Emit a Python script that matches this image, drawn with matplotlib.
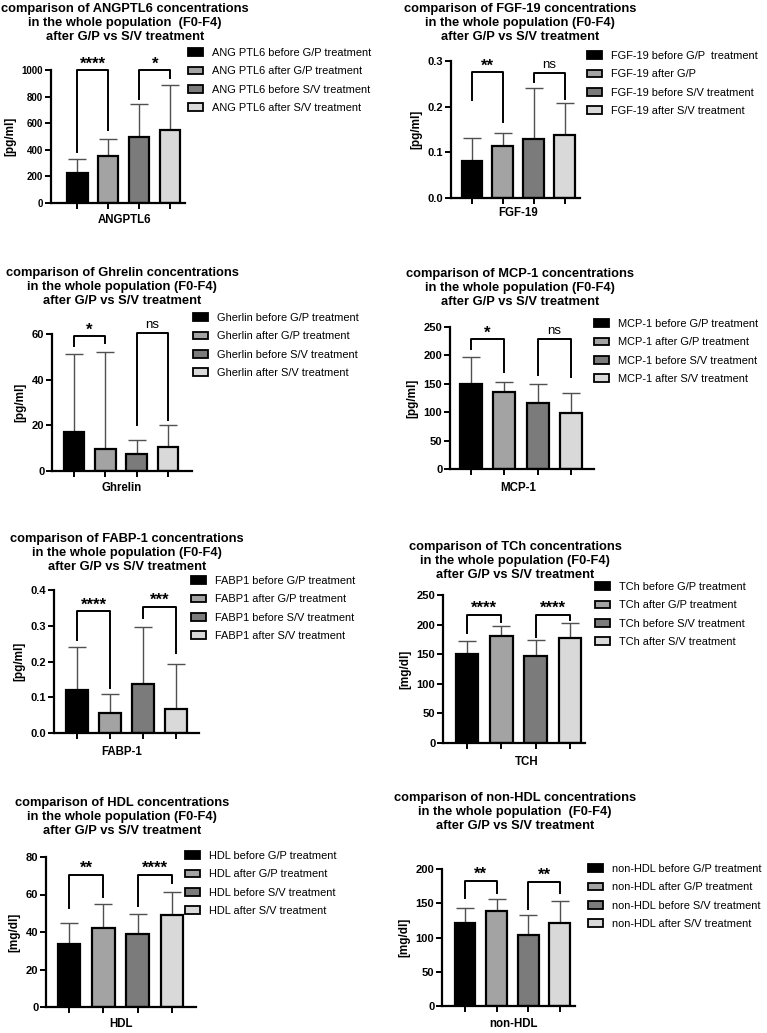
import numpy as np
import matplotlib.pyplot as plt
from matplotlib.patches import Patch

plt.rcParams['font.family'] = ['Liberation Sans', 'DejaVu Sans']

W, H = 767, 1033

bar_colors = ['#000000', '#a3a3a3', '#7b7b7b', '#d9d9d9']

# values (mean and upward SD)
angptl6_mean = [225, 355, 495, 550]
angptl6_sd = [105, 125, 250, 338]
angptl6_labels = ['ANG PTL6 before G/P treatment', 'ANG PTL6 after G/P treatment',
                  'ANG PTL6 before S/V treatment', 'ANG PTL6 after S/V treatment']
angptl6_sig = ['****', '*']

fgf19_mean = [0.080, 0.114, 0.129, 0.139]
fgf19_sd = [0.052, 0.029, 0.112, 0.068]
fgf19_labels = ['FGF-19 before G/P  treatment', 'FGF-19 after G/P',
                'FGF-19 before S/V treatment', 'FGF-19 after S/V treatment']
fgf19_sig = ['**', 'ns']

ghrelin_mean = [17.0, 9.5, 7.5, 10.3]
ghrelin_sd = [34.3, 42.5, 6.0, 9.7]
ghrelin_labels = ['Gherlin before G/P treatment', 'Gherlin after G/P treatment',
                  'Gherlin before S/V treatment', 'Gherlin after S/V treatment']
ghrelin_sig = ['*', 'ns']

mcp1_mean = [150, 135, 117, 98]
mcp1_sd = [47, 19, 32, 36]
mcp1_labels = ['MCP-1 before G/P treatment', 'MCP-1 after G/P treatment',
               'MCP-1 before S/V treatment', 'MCP-1 after S/V treatment']
mcp1_sig = ['*', 'ns']

fabp1_mean = [0.120, 0.055, 0.138, 0.067]
fabp1_sd = [0.120, 0.053, 0.159, 0.127]
fabp1_labels = ['FABP1 before G/P treatment', 'FABP1 after G/P treatment',
                'FABP1 before S/V treatment', 'FABP1 after S/V treatment']
fabp1_sig = ['****', '***']

tch_mean = [150, 180, 147, 178]
tch_sd = [22, 17, 27, 25]
tch_labels = ['TCh before G/P treatment', 'TCh after G/P treatment',
              'TCh before S/V treatment', 'TCh after S/V treatment']
tch_sig = ['****', '****']

hdl_mean = [33.5, 42, 39, 49]
hdl_sd = [11.5, 13, 10.5, 12.5]
hdl_labels = ['HDL before G/P treatment', 'HDL after G/P treatment',
              'HDL before S/V treatment', 'HDL after S/V treatment']
hdl_sig = ['**', '****']

nonhdl_mean = [120.5, 139, 104, 120.5]
nonhdl_sd = [22.5, 17.5, 29, 33]
nonhdl_labels = ['non-HDL before G/P treatment', 'non-HDL after G/P treatment',
                 'non-HDL before S/V treatment', 'non-HDL after S/V treatment']
nonhdl_sig = ['**', '**']


def make_title(name, gap=''):
    return (f'comparison of {name} concentrations\n'
            f'in the whole population {gap}(F0-F4)\nafter G/P vs S/V treatment')


# layout in pixels: axes (left, right, y of 0, y of top), bracket (top, left leg end, right leg end)
panels = [
    dict(title=make_title('ANGPTL6', ' '), mean=angptl6_mean, sd=angptl6_sd,
         labels=angptl6_labels, sig=angptl6_sig, xlabel='ANGPTL6', ylabel='[pg/ml]',
         yticks=[0, 200, 400, 600, 800, 1000], fmt='{:.0f}', tick_fs=7,
         rect=(51, 185, 203, 70), xlim=(-0.85, 3.48), title_xy=(125, 23),
         xlabel_xy=(125, 220), legend_xy=(188, 53),
         brackets=[(1000, 387, 550), (1000, 780, 937)]),
    dict(title=make_title('FGF-19'), mean=fgf19_mean, sd=fgf19_sd,
         labels=fgf19_labels, sig=fgf19_sig, xlabel='FGF-19', ylabel='[pg/ml]',
         yticks=[0.0, 0.1, 0.2, 0.3], fmt='{:.1f}', tick_fs=8,
         rect=(451, 580, 198, 61), xlim=(-0.67, 3.5), title_xy=(520, 23),
         xlabel_xy=(518, 213), legend_xy=(587, 56),
         brackets=[(0.276, 0.214, 0.166), (0.274, 0.254, 0.217)]),
    dict(title=make_title('Ghrelin'), mean=ghrelin_mean, sd=ghrelin_sd,
         labels=ghrelin_labels, sig=ghrelin_sig, xlabel='Ghrelin', ylabel='[pg/ml]',
         yticks=[0, 20, 40, 60], fmt='{:.0f}', tick_fs=8,
         rect=(52, 192, 471, 334), xlim=(-0.7, 3.77), title_xy=(122, 287),
         xlabel_xy=(122, 488), legend_xy=(193, 318),
         brackets=[(59, 54.9, 56), (60.4, 20.1, 22.3)]),
    dict(title=make_title('MCP-1'), mean=mcp1_mean, sd=mcp1_sd,
         labels=mcp1_labels, sig=mcp1_sig, xlabel='MCP-1', ylabel='[pg/ml]',
         yticks=[0, 50, 100, 150, 200, 250], fmt='{:.0f}', tick_fs=8,
         rect=(450, 594, 469, 327), xlim=(-0.63, 3.69), title_xy=(520, 288),
         xlabel_xy=(518, 488), legend_xy=(594, 324),
         brackets=[(228, 212, 171), (228, 165, 162)]),
    dict(title=make_title('FABP-1'), mean=fabp1_mean, sd=fabp1_sd,
         labels=fabp1_labels, sig=fabp1_sig, xlabel='FABP-1', ylabel='[pg/ml]',
         yticks=[0.0, 0.1, 0.2, 0.3, 0.4], fmt='{:.1f}', tick_fs=8,
         rect=(54, 199, 733, 590), xlim=(-0.7, 3.7), title_xy=(127, 553),
         xlabel_xy=(122, 752), legend_xy=(191, 581),
         brackets=[(0.341, 0.26, 0.126), (0.353, 0.321, 0.223)]),
    dict(title=make_title('TCh'), mean=tch_mean, sd=tch_sd,
         labels=tch_labels, sig=tch_sig, xlabel='TCH', ylabel='[mg/dl]',
         yticks=[0, 50, 100, 150, 200, 250], fmt='{:.0f}', tick_fs=8,
         rect=(443, 585, 743, 595), xlim=(-0.7, 3.44), title_xy=(515, 561),
         xlabel_xy=(527, 762), legend_xy=(595, 587),
         brackets=[(217, 186, 205), (217, 179, 208)]),
    dict(title=make_title('HDL'), mean=hdl_mean, sd=hdl_sd,
         labels=hdl_labels, sig=hdl_sig, xlabel='HDL', ylabel='[mg/dl]',
         yticks=[0, 20, 40, 60, 80], fmt='{:.0f}', tick_fs=8,
         rect=(46, 196, 1007, 857), xlim=(-0.67, 3.7), title_xy=(122, 817),
         xlabel_xy=(121, 1024), legend_xy=(185, 856),
         brackets=[(70.5, 52.7, 58.9), (70.5, 53.9, 66)]),
    dict(title=make_title('non-HDL', ' '), mean=nonhdl_mean, sd=nonhdl_sd,
         labels=nonhdl_labels, sig=nonhdl_sig, xlabel='non-HDL', ylabel='[mg/dl]',
         yticks=[0, 50, 100, 150, 200], fmt='{:.0f}', tick_fs=8,
         rect=(442, 575, 1006, 869), xlim=(-0.73, 3.48), title_xy=(515, 812),
         xlabel_xy=(513, 1024), legend_xy=(588, 869),
         brackets=[(183, 157, 165), (181.5, 142, 165)]),
]

fig = plt.figure(figsize=(W / 100, H / 100), dpi=100)

for p in panels:
    left, right, y0, ytop = p['rect']
    ax = fig.add_axes([left / W, 1 - y0 / H, (right - left) / W, (y0 - ytop) / H])
    x = np.arange(len(p['mean']))

    ax.bar(x, p['mean'], width=0.66, color=bar_colors, edgecolor='black',
           linewidth=1.6, zorder=2)
    ax.errorbar(x, p['mean'], yerr=[np.zeros(len(x)), p['sd']], fmt='none',
                ecolor='#505050', elinewidth=1.0, capsize=6.5, capthick=1.0, zorder=1)

    ax.set_xlim(*p['xlim'])
    ax.set_ylim(p['yticks'][0], p['yticks'][-1])
    ax.set_xticks(x)
    ax.set_xticklabels([])
    ax.set_yticks(p['yticks'])
    ax.set_yticklabels([p['fmt'].format(t) for t in p['yticks']],
                       fontweight='bold', fontsize=p['tick_fs'])
    ax.tick_params(direction='out', length=4, width=1.4, pad=1.5)
    for side in ['top', 'right']:
        ax.spines[side].set_visible(False)
    for side in ['left', 'bottom']:
        ax.spines[side].set_linewidth(1.6)
    ax.set_ylabel(p['ylabel'], fontweight='bold', fontsize=8.5, labelpad=4)

    # significance brackets
    for (i, j), (top, lb, rb), txt in zip([(0, 1), (2, 3)], p['brackets'], p['sig']):
        ax.plot([i, i, j, j], [lb, top, top, rb], color='black', lw=1.4,
                clip_on=False, zorder=3)
        stars = '*' in txt
        ax.annotate(txt, xy=((i + j) / 2, top), xytext=(0, -1 if stars else 1.5),
                    textcoords='offset points', ha='center', va='bottom',
                    fontweight='bold' if stars else 'normal',
                    fontsize=12 if stars else 9.5, annotation_clip=False)

    handles = [Patch(facecolor=c, edgecolor='black', linewidth=1.3) for c in bar_colors]
    lx, ly = p['legend_xy']
    ax.legend(handles, p['labels'], loc='upper left',
              bbox_to_anchor=(lx / W, 1 - (ly - 5) / H), bbox_transform=fig.transFigure,
              frameon=False, fontsize=7.9, handlelength=1.4, handleheight=0.7,
              handletextpad=0.8, labelspacing=0.76, borderpad=0, borderaxespad=0)

    tx, ty = p['title_xy']
    fig.text(tx / W, 1 - ty / H, p['title'], ha='center', va='center',
             fontweight='bold', fontsize=9.3, linespacing=1.25)
    xx, xy = p['xlabel_xy']
    fig.text(xx / W, 1 - xy / H, p['xlabel'], ha='center', va='center',
             fontweight='bold', fontsize=8.3)

fig.savefig('out.png', dpi=100)
